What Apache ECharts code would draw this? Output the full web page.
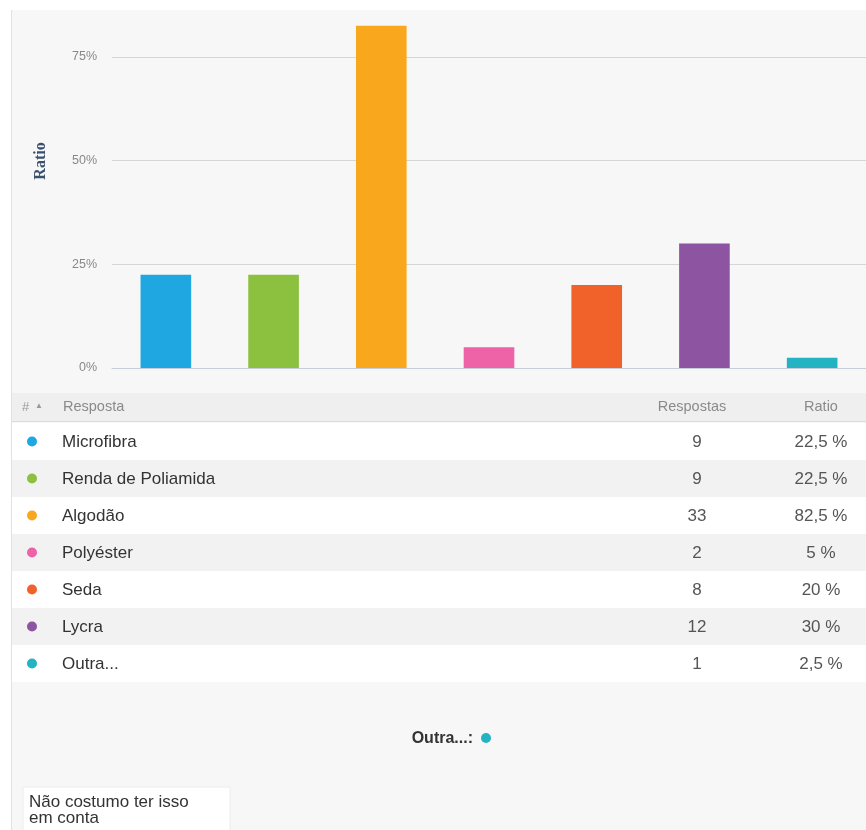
<!DOCTYPE html>
<html>
<head>
<meta charset="utf-8">
<script src="https://cdn.jsdelivr.net/npm/echarts@6/dist/echarts.min.js"></script>
<style>
html,body{margin:0;padding:0;background:#fff;}
#chart{width:866px;height:830px;}
</style>
</head>
<body>
<div id="chart"></div>
<script>
// ---- data ----
var categories = ['Microfibra', 'Renda de Poliamida', 'Algodão', 'Polyéster', 'Seda', 'Lycra', 'Outra...'];
var counts = [9, 9, 33, 2, 8, 12, 1];
var ratios = [22.5, 22.5, 82.5, 5, 20, 30, 2.5];
var yTicks = [0, 25, 50, 75];
var otherLabel = 'Outra...:';
var otherAnswers = ['Não costumo ter isso', 'em conta'];
var headerLabels = ['#', 'Resposta', 'Respostas', 'Ratio'];
var palette = ['#1ea7e1', '#8cc13f', '#f9a71c', '#ee62a8', '#f1622a', '#8d54a1', '#23b3c2'];

function fmtRatio(v) { return String(v).replace('.', ',') + ' %'; }

var chart = echarts.init(document.getElementById('chart'), null, {renderer: 'canvas'});

var FONT = '"Liberation Sans", Arial, sans-serif';
var rowTop = 423, rowH = 37;
var g = [];
// white frame top / left
g.push({type: 'rect', shape: {x: 0, y: 0, width: 866, height: 10}, style: {fill: '#ffffff'}, silent: true});
g.push({type: 'rect', shape: {x: 0, y: 0, width: 11, height: 830}, style: {fill: '#ffffff'}, silent: true});
g.push({type: 'line', shape: {x1: 11.5, y1: 10, x2: 11.5, y2: 830}, style: {stroke: '#e2e2e2', lineWidth: 1}, silent: true});
// y axis title
g.push({type: 'text', x: 41, y: 161, rotation: Math.PI / 2,
  style: {text: 'Ratio', fill: '#3b4f6e', font: 'bold 16px "Liberation Serif", serif', align: 'center', verticalAlign: 'middle'}});
// header row
g.push({type: 'rect', shape: {x: 12, y: 393, width: 854, height: 28}, style: {fill: '#efefef'}, silent: true});
g.push({type: 'line', shape: {x1: 12, y1: 421.5, x2: 866, y2: 421.5}, style: {stroke: '#dcdcdc', lineWidth: 1}, silent: true});
g.push({type: 'text', x: 22, y: 407, style: {text: headerLabels[0], fill: '#999', font: '13px ' + FONT, verticalAlign: 'middle'}});
g.push({type: 'text', x: 35, y: 406, style: {text: '▲', fill: '#999', font: '8px ' + FONT, verticalAlign: 'middle'}});
g.push({type: 'text', x: 63, y: 407, style: {text: headerLabels[1], fill: '#8a8a8a', font: '14.5px ' + FONT, verticalAlign: 'middle'}});
g.push({type: 'text', x: 692, y: 407, style: {text: headerLabels[2], fill: '#8a8a8a', font: '14.5px ' + FONT, align: 'center', verticalAlign: 'middle'}});
g.push({type: 'text', x: 821, y: 407, style: {text: headerLabels[3], fill: '#8a8a8a', font: '14.5px ' + FONT, align: 'center', verticalAlign: 'middle'}});
// table rows
categories.forEach(function (c, i) {
  var top = rowTop + i * rowH;
  var cy = top + rowH / 2;
  g.push({type: 'rect', shape: {x: 12, y: top, width: 854, height: rowH}, style: {fill: i % 2 === 0 ? '#ffffff' : '#f2f2f2'}, silent: true});
  g.push({type: 'circle', shape: {cx: 32, cy: cy, r: 5}, style: {fill: palette[i]}});
  g.push({type: 'text', x: 62, y: cy + 1, style: {text: c, fill: '#333', font: '17px ' + FONT, verticalAlign: 'middle'}});
  g.push({type: 'text', x: 697, y: cy + 1, style: {text: String(counts[i]), fill: '#555', font: '17px ' + FONT, align: 'center', verticalAlign: 'middle'}});
  g.push({type: 'text', x: 821, y: cy + 1, style: {text: fmtRatio(ratios[i]), fill: '#555', font: '17px ' + FONT, align: 'center', verticalAlign: 'middle'}});
});
// other answers
g.push({type: 'text', x: 473, y: 739, style: {text: otherLabel, fill: '#333', font: 'bold 16px ' + FONT, align: 'right', verticalAlign: 'middle'}});
g.push({type: 'circle', shape: {cx: 486, cy: 738, r: 5}, style: {fill: palette[6]}});
g.push({type: 'rect', shape: {x: 23, y: 787, width: 207, height: 50}, style: {fill: '#ffffff', stroke: '#ececec', lineWidth: 1}, silent: true});
otherAnswers.forEach(function (t, i) {
  g.push({type: 'text', x: 29, y: 802 + i * 16, style: {text: t, fill: '#333', font: '17px ' + FONT, verticalAlign: 'middle'}});
});

chart.setOption({
  backgroundColor: '#f7f7f7',
  animation: false,
  grid: {left: 112, width: 754, top: 15.5, height: 352.5},
  xAxis: {
    type: 'category',
    data: categories,
    axisLine: {lineStyle: {color: '#c9cdd8', width: 1}},
    axisTick: {alignWithLabel: true, length: 4, lineStyle: {color: '#d5d8e0'}},
    axisLabel: {show: false}
  },
  yAxis: {
    type: 'value',
    min: 0, max: 85, interval: 25,
    axisLine: {show: false},
    axisTick: {show: false},
    axisLabel: {
      color: '#888', fontSize: 12.5, fontFamily: FONT, margin: 15,
      showMaxLabel: false,
      formatter: function (v) { return yTicks.indexOf(v) >= 0 ? v + '%' : ''; }
    },
    splitLine: {lineStyle: {color: '#d6d6d6', width: 1}, showMaxLine: false}
  },
  series: [{
    type: 'bar',
    barWidth: '47%',
    data: ratios.map(function (v, i) { return {value: v, itemStyle: {color: palette[i]}}; })
  }],
  graphic: {elements: g}
});
</script>
</body>
</html>
